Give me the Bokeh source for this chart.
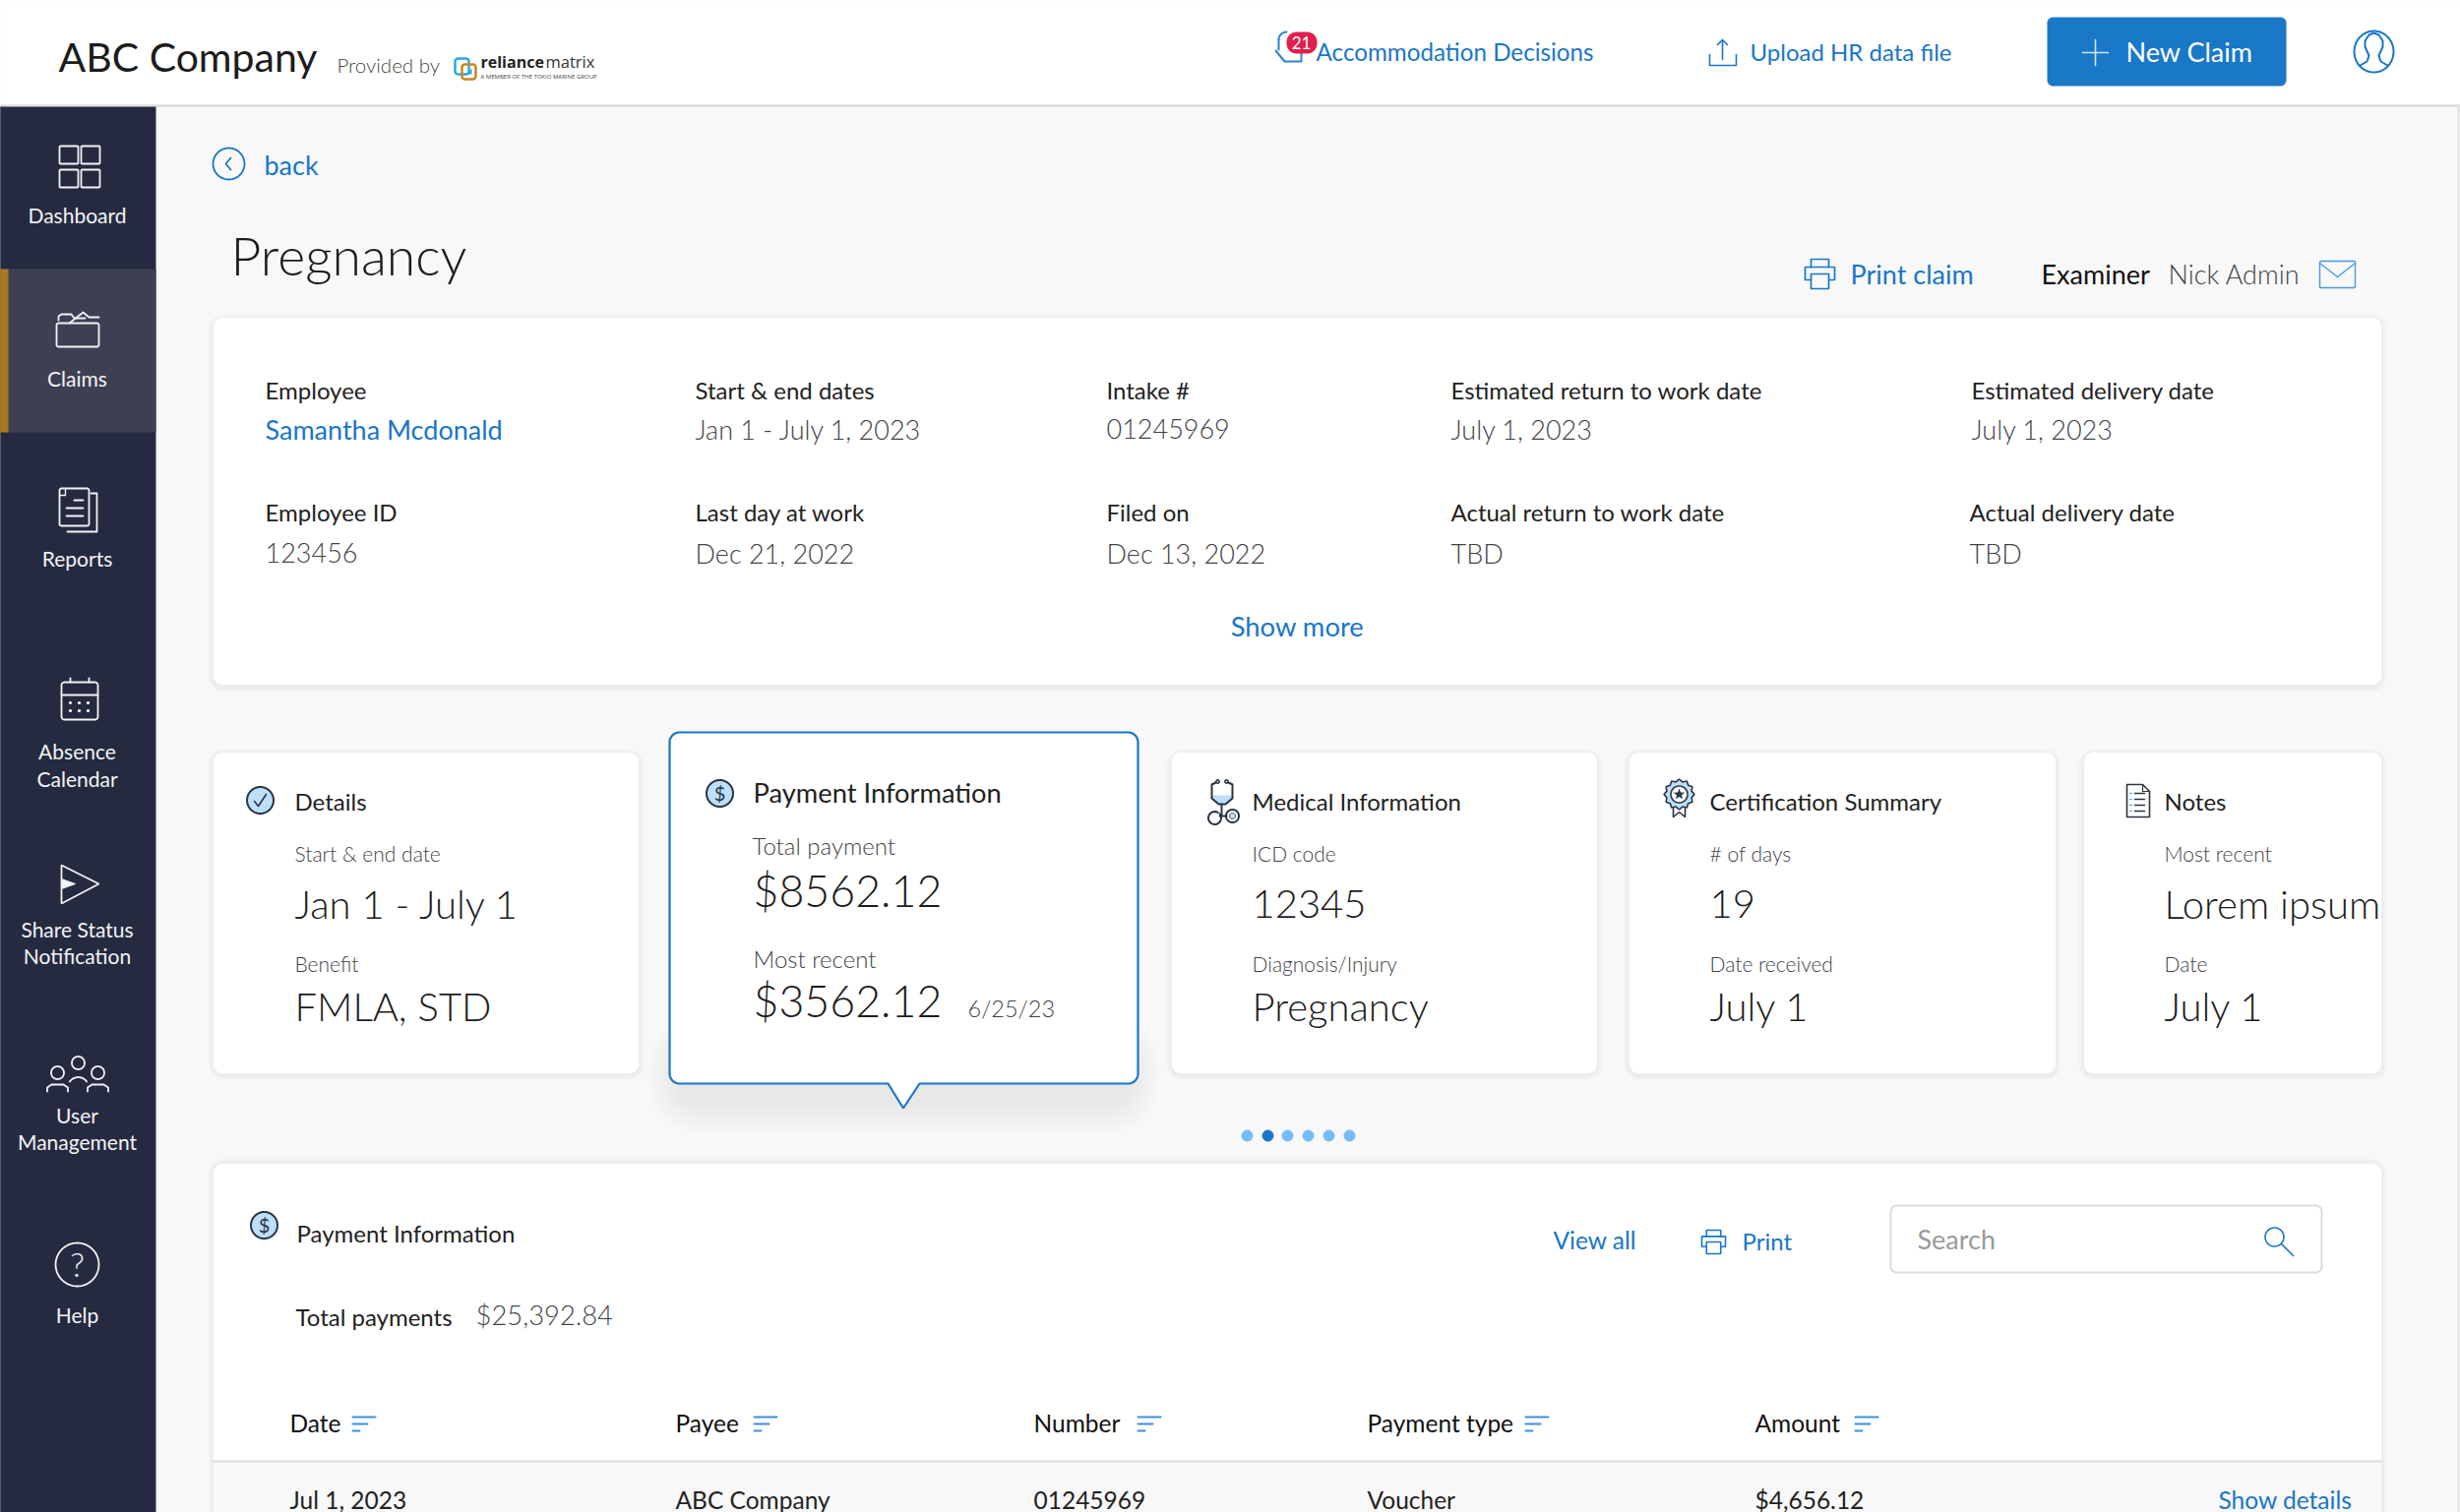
import numpy as np
from bokeh.core.properties import value
from bokeh.embed import file_html
from bokeh.models import BoxAnnotation, Range1d
from bokeh.plotting import figure
from bokeh.resources import INLINE

# texts
nav_labels = [["Dashboard"], ["Claims"], ["Reports"], ["Absence", "Calendar"],
              ["Share Status", "Notification"], ["User", "Management"], ["Help"]]
info_labels = ["Employee", "Start & end dates", "Intake #", "Estimated return to work date", "Estimated delivery date",
               "Employee ID", "Last day at work", "Filed on", "Actual return to work date", "Actual delivery date"]
info_values = ["Samantha Mcdonald", "Jan 1 - July 1, 2023", "01245969", "July 1, 2023", "July 1, 2023",
               "123456", "Dec 21, 2022", "Dec 13, 2022", "TBD", "TBD"]
card_titles = ["Details", "Medical Information", "Certification Summary", "Notes"]
card_labels_a = ["Start & end date", "ICD code", "# of days", "Most recent"]
card_values_a = ["Jan 1 - July 1", "12345", "19", "Lorem ipsum"]
card_labels_b = ["Benefit", "Diagnosis/Injury", "Date received", "Date"]
card_values_b = ["FMLA, STD", "Pregnancy", "July 1", "July 1"]
table_headers = ["Date", "Payee", "Number", "Payment type", "Amount"]
table_row = ["Jul 1, 2023", "ABC Company", "01245969", "Voucher", "$4,656.12"]
total_payment = "$8562.12"
recent_payment = "$3562.12"
recent_date = "6/25/23"
total_payments = "$25,392.84"

BLUE = "#1976c9"
INK = "#1c1c1c"
GREY = "#3f4347"
NAVY = "#252a40"
LIGHT_BLUE = "#bcdffb"
ICON_INK = "#2b3442"
PAGE = "#f8f8f8"
LIGHT = "Lato Light"

p = figure(width=2500, height=1537, x_range=Range1d(0, 2500), y_range=Range1d(1537, 0),
           x_axis_type=None, y_axis_type=None, tools="", toolbar_location=None,
           output_backend="svg", min_border=0, outline_line_color=None,
           background_fill_color=PAGE, border_fill_color=PAGE)
p.grid.visible = False


def txt(x, y, s, size, color=INK, font="Lato", align="left", style="normal"):
    # the svg text lands about 0.37em under the anchor, so lift it back to the baseline
    p.text([x - 1], [y - 0.5 - 0.37 * size], text=[s], text_font=value(font), text_font_size=f"{size}px",
           text_color=color, text_align=align, text_baseline="alphabetic", text_font_style=style)


def ln(xs, ys, color=BLUE, w=2):
    p.line(xs, ys, line_color=color, line_width=w, line_cap="round", line_join="round")


def round_xy(x0, y0, x1, y1, r):
    xs, ys = [], []
    for cx, cy, a in [(x1 - r, y0 + r, -90), (x1 - r, y1 - r, 0), (x0 + r, y1 - r, 90), (x0 + r, y0 + r, 180)]:
        t = np.radians(np.linspace(a, a + 90, 9))
        xs.extend(cx + r * np.cos(t))
        ys.extend(cy + r * np.sin(t))
    return xs, ys


def box(x0, y0, x1, y1, r=0, fill=None, line=None, w=2, alpha=1.0):
    xs, ys = round_xy(x0, y0, x1, y1, r) if r else ([x0, x1, x1, x0], [y0, y0, y1, y1])
    p.patch(xs, ys, fill_color=fill, fill_alpha=alpha if fill else 0,
            line_color=line, line_width=w, line_alpha=1 if line else 0)


def ring(cx, cy, rx, ry=None, color=BLUE, w=2, fill=None):
    t = np.linspace(0, 2 * np.pi, 61)
    ry = rx if ry is None else ry
    p.patch(cx + rx * np.cos(t), cy + ry * np.sin(t), fill_color=fill, fill_alpha=1 if fill else 0,
            line_color=color, line_width=w)


def arc(cx, cy, r, a0, a1, color=BLUE, w=2):
    t = np.radians(np.linspace(a0, a1, 25))
    ln(cx + r * np.cos(t), cy + r * np.sin(t), color, w)


def shadow(x0, y0, x1, y1, r, layers, spread, drop, alpha):
    for i in range(layers, 0, -1):
        g = spread * i / layers
        box(x0 - g, y0 - g + drop, x1 + g, y1 + g + drop, r + g, fill="#5a5f6a", alpha=alpha)


def card(x0, y0, x1, y1):
    shadow(x0, y0, x1, y1, 10, 4, 5, 2, 0.016)
    box(x0, y0, x1, y1, 10, fill="#ffffff", line="#eeeeee", w=1)


def printer(x, y, s=1.0, color=BLUE, w=1.7):
    # x, y is the top left of a 30 wide icon
    ln([x + 6 * s, x + 6 * s, x + 24 * s, x + 24 * s], [y + 8 * s, y, y, y + 8 * s], color, w)
    ln([x + 6 * s, x, x, x + 6 * s], [y + 21 * s, y + 21 * s, y + 8 * s, y + 8 * s], color, w)
    ln([x + 6 * s, x + 30 * s, x + 30 * s, x + 24 * s], [y + 8 * s, y + 8 * s, y + 21 * s, y + 21 * s], color, w)
    box(x + 6 * s, y + 15 * s, x + 24 * s, y + 30 * s, 0, fill=PAGE if s == 1 else "#ffffff", line=color, w=w)


def dollar(cx, cy, r):
    ring(cx, cy, r, color=ICON_INK, w=2, fill=LIGHT_BLUE)
    txt(cx + 1, cy + 7.5, "$", 20, ICON_INK, align="center")


def sort_icon(x, y):
    for dy, wd in zip([0, 7, 14], [23, 15, 7]):
        ln([x, x + wd], [y + dy, y + dy], "#3d8fdc", 2)


# page chrome
box(-5, -5, 2505, 106, fill="#ffffff")
ln([0, 2500], [107, 107], "#dedede", 2.5)
ln([2498, 2498], [108, 1537], "#e2e2e2", 2)
box(-5, 108, 158, 1545, fill=NAVY)
box(-5, 273, 158, 439, fill="#3d4053")
box(-5, 273, 8, 439, fill="#a87a1d")
# glyphs are clipped half a pixel in from the edge, close that sliver
for y0, y1, c in [(108, 273, NAVY), (273, 439, "#a87a1d"), (439, 1537, NAVY)]:
    p.add_layout(BoxAnnotation(left=-3, right=1, top=y0, bottom=y1, fill_color=c, fill_alpha=1, line_color=None))

# top bar
txt(60, 73, "ABC Company", 41)
txt(343, 74, "Provided by", 20.5, GREY, LIGHT)
box(462, 59, 476, 75, 3, line="#2aa9e0", w=2.5)
box(469, 65, 483, 80, 3, line="#c6861f", w=2.5)
p.patch([473, 479, 479], [75, 75, 69], fill_color="#2aa9e0", line_color=None)
txt(489, 69, "reliance", 16, "#222222", "Open Sans", style="bold")
txt(555, 69, "matrix", 16.5, "#333333", "Open Sans")
txt(489, 80, "A MEMBER OF THE TOKIO MARINE GROUP", 6, "#444444", "Open Sans")

ln([1299, 1299], [50, 40], "#2b85d0")
arc(1307, 40, 8, 180, 270, "#2b85d0")
ln([1296, 1305, 1322, 1322], [51, 62, 62, 52], "#2b85d0")
box(1307, 32, 1338, 54, 10, fill="#e01e4c")
txt(1323, 50, "21", 17, "#ffffff", align="center")
txt(1338, 61, "Accommodation Decisions", 24.2, BLUE)

ln([1737, 1737, 1764, 1764], [55, 66, 66, 55], BLUE, 1.6)
ln([1750, 1750], [40, 60], BLUE, 1.6)
ln([1745, 1750, 1755], [45, 40, 45], BLUE, 1.6)
txt(1779, 61, "Upload HR data file", 24, BLUE)

box(2080, 17, 2323, 87, 6, fill="#1a78c8")
ln([2116, 2142], [53, 53], "#cfe4f6", 1.6)
ln([2129, 2129], [40, 66], "#cfe4f6", 1.6)
txt(2161, 62, "New Claim", 27, "#ffffff")

ring(2412, 52, 20, 21, BLUE, 2)
ln([2398, 2405, 2407, 2403, 2403, 2407, 2412, 2417, 2421, 2421, 2417, 2419, 2426],
   [66, 62, 56, 47, 41, 35, 33, 35, 41, 47, 56, 62, 66], BLUE, 2)

# page heading
ring(232, 166, 16, color=BLUE, w=1.8)
ln([234, 229, 234], [160, 166, 172], BLUE, 1.8)
txt(269, 177, "back", 27, BLUE)
txt(235, 279, "Pregnancy", 53.5, INK, LIGHT)

printer(1834, 263)
txt(1881, 288, "Print claim", 27, BLUE)
txt(2075, 288, "Examiner", 27, "#111111")
txt(2204, 288, "Nick Admin", 27, GREY, LIGHT)
box(2357, 265, 2393, 292, 1, line="#4a9ae0", w=1.4)
ln([2357, 2375, 2393], [267, 281, 267], "#4a9ae0", 1.4)

# sidebar icons and labels
WHITE = "#f2f3f5"
for x0, y0 in [(60, 148), (82, 148), (60, 172), (82, 172)]:
    box(x0, y0, x0 + 19, y0 + 18, 1, line=WHITE, w=1.8)

ln([59, 59, 62, 72, 75, 86], [325, 321, 319, 319, 323, 323], WHITE, 1.8)
box(57, 328, 100, 352, 2, line=WHITE, w=1.8)
ln([70, 84, 90, 100], [328, 317, 322, 322], WHITE, 1.8)

box(60, 496, 90, 534, 2, line=WHITE, w=1.8)
ln([92, 98, 98, 68], [501, 501, 540, 540], WHITE, 1.8)
ln([75, 84], [508, 508], WHITE, 1.8)
ln([67, 84], [516, 516], WHITE, 1.8)
ln([67, 84], [524, 524], WHITE, 1.8)
ln([60, 66, 66], [503, 503, 497], WHITE, 1.4)

box(62, 693, 99, 731, 3, line=WHITE, w=1.8)
ln([62, 99], [706, 706], WHITE, 1.8)
ln([71, 71], [689, 693], WHITE, 1.8)
ln([90, 90], [689, 693], WHITE, 1.8)
for dx in [71, 80, 89]:
    for dy in [714, 722]:
        ring(dx, dy, 0.8, color=WHITE, w=1.6, fill=WHITE)

p.patch([62, 100, 62], [879, 898, 918], fill_color=None, fill_alpha=0, line_color=WHITE, line_width=1.8)
p.patch([62, 76, 62], [893, 898, 903], fill_color=WHITE, line_color=WHITE, line_width=1)

ring(79, 1080, 6.5, color=WHITE, w=1.8)
arc(79, 1105, 10.5, 215, 325, WHITE, 1.8)
for cx in [58, 99]:
    ring(cx, 1090, 6.5, color=WHITE, w=1.8)
    ln([cx - 10.5, cx - 10.5, cx - 6, cx + 6, cx + 10.5, cx + 10.5], [1109, 1105, 1102, 1102, 1105, 1109], WHITE, 1.8)

ring(78, 1285, 22, color=WHITE, w=1.8)
txt(79, 1297, "?", 34, WHITE, LIGHT, "center")

nav_base = [[226], [392], [575], [771, 799], [952, 979], [1141, 1168], [1344]]
for lines, bases in zip(nav_labels, nav_base):
    for s, y in zip(lines, bases):
        txt(79, y, s, 21, WHITE, align="center")

# employee panel
card(216, 322, 2420, 696)
info_x = [270, 707, 1125, 1475, 2004, 270, 707, 1125, 1475, 2002]
info_label_y = [405] * 5 + [529] * 5
info_value_y = [446] * 5 + [572] * 5
for i in range(10):
    txt(info_x[i], info_label_y[i], info_labels[i], 24, "#222222")
    txt(info_x[i], info_value_y[i], info_values[i], 27, BLUE if i == 0 else GREY, "Lato" if i == 0 else LIGHT)
txt(1319, 647, "Show more", 27.4, BLUE, align="center")

# summary cards
card_x = [(216, 649, 300), (1190, 1623, 1273), (1655, 2089, 1738), (2117, 2420, 2200)]
for i, (x0, x1, tx) in enumerate(card_x):
    card(x0, 764, x1, 1091)
    txt(tx, 823, card_titles[i], 24, "#222222")
    txt(tx, 875, card_labels_a[i], 21, GREY, LIGHT)
    txt(tx, 934, card_values_a[i], 40, INK, LIGHT)
    txt(tx, 987, card_labels_b[i], 21, GREY, LIGHT)
    txt(tx, 1038, card_values_b[i], 40, INK, LIGHT)

ring(264, 813, 13.5, color=ICON_INK, w=2, fill=LIGHT_BLUE)
ln([258, 262, 270], [814, 819, 807], ICON_INK, 1.6)

# stethoscope
p.patch([1231, 1252, 1252, 1245, 1238, 1231], [808, 808, 812, 817, 817, 812], fill_color=LIGHT_BLUE, line_color=None)
ln([1235, 1231, 1231, 1238, 1245, 1252, 1252, 1248], [795, 797, 811, 817, 817, 811, 797, 795], ICON_INK, 2)
ring(1237, 794, 1.6, color=ICON_INK, w=1.6)
ring(1246, 794, 1.6, color=ICON_INK, w=1.6)
ln([1241, 1241], [817, 829], ICON_INK, 2)
arc(1234, 831, 6.5, -40, 300, ICON_INK, 2)
ln([1239, 1246], [829, 829], ICON_INK, 2)
ring(1252, 829, 6.5, color=ICON_INK, w=2)
ring(1252, 829, 3, color=ICON_INK, w=1, fill=LIGHT_BLUE)

# medal
t = np.linspace(0, 2 * np.pi, 25)
rr = np.where(np.arange(25) % 2 == 0, 15.5, 13)
p.patch(1706 + rr * np.cos(t), 807 + rr * np.sin(t), fill_color=LIGHT_BLUE, line_color=ICON_INK, line_width=1.6)
ring(1706, 807, 8.5, color=ICON_INK, w=1.6, fill="#ffffff")
t = np.radians(np.arange(-90, 270, 36))
rr = np.where(np.arange(10) % 2 == 0, 6, 2.6)
p.patch(1706 + rr * np.cos(t), 807 + rr * np.sin(t), fill_color=ICON_INK, line_color=None)
ln([1700, 1700, 1706, 1712, 1712], [821, 830, 825, 830, 821], ICON_INK, 1.6)

# notes
ln([2161, 2161, 2177, 2184, 2184, 2161], [830, 797, 797, 804, 830, 830], ICON_INK, 1.6)
ln([2177, 2177, 2184], [797, 804, 804], ICON_INK, 1.2)
for dy in [806, 812, 818, 824]:
    ln([2164, 2166], [dy, dy], "#6fb5ee", 1.5)
    ln([2169, 2179], [dy, dy], ICON_INK, 1.5)

# selected card
for i in range(8, 0, -1):
    g = 4 * i
    box(690 - g, 1065 - g, 1146 + g, 1120 + g, 20 + g, fill="#50555f", alpha=0.012)
xs, ys = round_xy(680, 744, 1156, 1101, 10)
xs = xs[:18] + [934, 917.5, 902] + xs[18:]
ys = ys[:18] + [1101, 1126, 1101] + ys[18:]
p.patch(xs, ys, fill_color="#ffffff", line_color=BLUE, line_width=2.2)
dollar(731, 806, 13.5)
txt(766, 816, "Payment Information", 27.3, "#222222")
txt(765, 868, "Total payment", 24, GREY, LIGHT)
txt(766, 922, total_payment, 44.7, INK, LIGHT)
txt(766, 983, "Most recent", 24, GREY, LIGHT)
txt(766, 1034, recent_payment, 44.7, INK, LIGHT)
txt(984, 1034, recent_date, 23.5, GREY, LIGHT)

# pager
for i, x in enumerate([1267, 1288, 1308, 1329, 1350, 1371]):
    c = BLUE if i == 1 else "#74bdfb"
    ring(x, 1154, 5.5, color=c, w=1, fill=c)

# payments panel
shadow(216, 1182, 2420, 1600, 10, 4, 5, 0, 0.016)
box(216, 1182, 2420, 1600, 10, fill="#ffffff", line="#eeeeee", w=1)
box(217, 1486, 2419, 1545, fill=PAGE)
ln([216, 2420], [1485, 1485], "#dcdcdc", 2)
dollar(268, 1245, 13.5)
txt(302, 1262, "Payment Information", 24, "#222222")
txt(301, 1347, "Total payments", 24, "#222222")
txt(484, 1347, total_payments, 27.4, GREY, LIGHT)
txt(1579, 1270, "View all", 24.5, BLUE)
printer(1729, 1250, 0.8, BLUE, 1.6)
txt(1771, 1270, "Print", 24, BLUE)
box(1921, 1225, 2359, 1293, 6, fill="#ffffff", line="#dcdcdc", w=2)
txt(1949, 1269, "Search", 27, "#9a9a9a")
ring(2311, 1257, 9.5, color=BLUE, w=1.6)
ln([2318, 2330], [1264, 1276], BLUE, 1.6)

table_x = [295, 687, 1051, 1390, 1784]
sort_x = [358, 766, 1156, 1550, 1885]
for i in range(5):
    txt(table_x[i], 1456, table_headers[i], 24.5, "#111111")
    sort_icon(sort_x[i], 1440)
    txt(table_x[i], 1534, table_row[i], 24.5, "#222222")
txt(2255, 1534, "Show details", 24.5, BLUE)

open("out.html", "w").write(file_html(p, INLINE))
